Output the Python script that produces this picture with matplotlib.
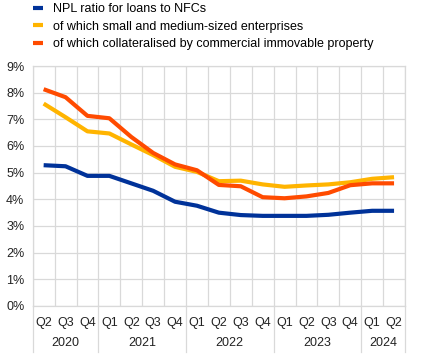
import matplotlib
matplotlib.use("Agg")
import matplotlib.pyplot as plt
import matplotlib.transforms as mtransforms

plt.rcParams['font.family'] = ['Liberation Sans', 'DejaVu Sans']

quarters = ["Q2", "Q3", "Q4", "Q1", "Q2", "Q3", "Q4", "Q1", "Q2", "Q3", "Q4",
            "Q1", "Q2", "Q3", "Q4", "Q1", "Q2"]
years = ["2020", "2021", "2022", "2023", "2024"]
year_counts = [3, 4, 4, 4, 2]

npl_nfc = [5.28, 5.24, 4.88, 4.88, 4.60, 4.32, 3.91, 3.76, 3.50, 3.41, 3.38,
           3.38, 3.38, 3.42, 3.50, 3.57, 3.57]
npl_sme = [7.59, 7.08, 6.55, 6.47, 6.06, 5.66, 5.22, 5.03, 4.68, 4.70, 4.56,
           4.47, 4.52, 4.56, 4.64, 4.77, 4.83]
npl_cre = [8.13, 7.83, 7.13, 7.04, 6.34, 5.74, 5.31, 5.09, 4.54, 4.49, 4.08,
           4.04, 4.11, 4.24, 4.53, 4.60, 4.60]

labels = ["NPL ratio for loans to NFCs",
          "of which small and medium-sized enterprises",
          "of which collateralised by commercial immovable property"]
colors = ["#003299", "#FFB400", "#FF4B00"]

FS = 9
W, H = 425, 354
fig = plt.figure(figsize=(W / 100, H / 100), dpi=100)
left, right, top, bottom = 32.7, 405, 66, 306
ax = fig.add_axes([left / W, 1 - bottom / H, (right - left) / W, (bottom - top) / H])

x = list(range(len(quarters)))
lines = []
for series, c, lab in zip([npl_nfc, npl_sme, npl_cre], colors, labels):
    ln, = ax.plot(x, series, color=c, lw=3.0, label=lab, solid_capstyle='butt',
                  solid_joinstyle='round', zorder=3)
    lines.append(ln)

ax.set_xlim(-0.5, len(quarters) - 0.5)
ax.set_ylim(0, 9)
ax.set_yticks(range(0, 10))
ax.set_yticklabels([f"{v}%" for v in range(0, 10)], fontsize=FS, color="#222222")
ax.set_xticks(x)
ax.set_xticklabels(quarters, fontsize=FS, color="#222222")
ax.set_xticks([i - 0.5 for i in range(len(quarters) + 1)], minor=True)
ax.tick_params(axis='both', which='both', length=0)
ax.tick_params(axis='x', pad=8)
ax.tick_params(axis='y', pad=6)

ax.grid(True, which='minor', axis='x', color='#d9d9d9', lw=0.9)
ax.grid(True, which='major', axis='y', color='#d9d9d9', lw=0.9)
for s in ['top', 'right', 'left', 'bottom']:
    ax.spines[s].set_color('#d9d9d9')
    ax.spines[s].set_linewidth(0.9)

trans = mtransforms.blended_transform_factory(ax.transData, ax.transAxes)
start = -0.5
ax_h = bottom - top
ybot = -(352 - bottom) / ax_h
ax.plot([start, start], [0, ybot], color='#d9d9d9', lw=0.9, transform=trans, clip_on=False)
for yr, n in zip(years, year_counts):
    end = start + n
    ax.plot([end, end], [0, ybot], color='#d9d9d9', lw=0.9, transform=trans, clip_on=False)
    ax.text((start + end) / 2, -(343 - bottom) / ax_h, yr, transform=trans,
            ha='center', va='center', fontsize=FS, color="#222222")
    start = end

fig.legend(handles=lines, loc='upper left', bbox_to_anchor=(33 / W, 1 - 3 / H),
           frameon=False, fontsize=FS, handlelength=0.8, handletextpad=0.8,
           borderpad=0, borderaxespad=0, labelspacing=0.45)

fig.savefig("out.png", dpi=100)
